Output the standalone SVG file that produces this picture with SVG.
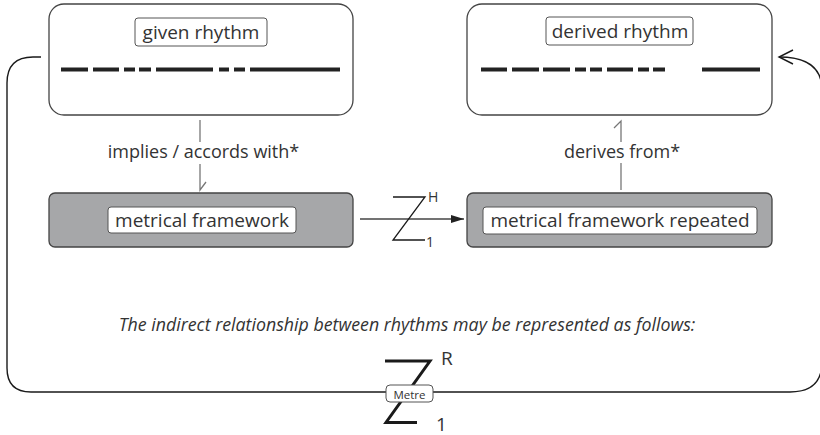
<svg xmlns="http://www.w3.org/2000/svg" width="820" height="435" viewBox="0 0 820 435">
  <defs>
    <marker id="arrowFill" markerWidth="14" markerHeight="10" refX="13" refY="5" orient="auto" markerUnits="userSpaceOnUse">
      <path d="M0,1 L13,5 L0,9 Z" fill="#222"/>
    </marker>
    <style>
      .txt { font-family: "Open Sans", "Liberation Sans", sans-serif; fill: #333; }
      .rhythmBox { fill: #fff; stroke: #444; stroke-width: 1.3; }
      .frameBox { fill: #a6a7a9; stroke: #444; stroke-width: 1.3; }
      .label { fill: #fff; stroke: #555; stroke-width: 1; }
      .beat { stroke: #222; stroke-width: 3.8; fill: none; }
      .link { stroke: #777; stroke-width: 1.3; fill: none; }
      .zig { stroke: #1a1a1a; fill: none; }
    </style>
  </defs>

  <!-- outer feedback loop from given rhythm round to derived rhythm -->
  <g id="connectors">
    <path class="zig" stroke-width="1.4" d="M41,57 L33,57 Q7,57 7,83 L7,368 Q7,392 31,392 L790,392 Q822,392 822,362 L822,90 Q822,57 779,57"/>
    <path class="zig" stroke-width="1.4" d="M793,50 L779,57 L793,64"/>

    <!-- implies / accords with -->
    <line class="link" x1="200" y1="120" x2="200" y2="142"/>
    <path class="link" d="M200,164 L200,190 L206,182"/>
    <text class="txt" x="203.5" y="158" font-size="18" text-anchor="middle">implies / accords with*</text>

    <!-- derives from -->
    <path class="link" d="M614,128 L621,121 L621,142"/>
    <line class="link" x1="621" y1="163" x2="621" y2="190"/>
    <text class="txt" x="622" y="158" font-size="18" text-anchor="middle">derives from*</text>

    <!-- framework repetition arrow with its Z sign -->
    <line x1="360" y1="219" x2="464" y2="219" stroke="#444" stroke-width="1.3" marker-end="url(#arrowFill)"/>
    <path class="zig" stroke-width="1.3" d="M393,197 L425,197 L393,240 L425,240"/>
    <text class="txt" x="428" y="202" font-size="14">H</text>
    <text class="txt" x="426" y="247" font-size="14">1</text>
  </g>

  <g id="given-rhythm">
    <rect class="rhythmBox" x="49" y="4" width="304" height="111" rx="15"/>
    <rect class="label" x="135" y="18" width="132" height="28" rx="3"/>
    <text class="txt" x="201" y="38.5" font-size="19" text-anchor="middle">given rhythm</text>
    <path class="beat" d="M61,69.5 H88 M93,69.5 H119 M124,69.5 H135 M139,69.5 H151 M156,69.5 H213 M219,69.5 H229 M234,69.5 H245 M250,69.5 H340"/>
  </g>

  <g id="derived-rhythm">
    <rect class="rhythmBox" x="467" y="4" width="305" height="111" rx="15"/>
    <rect class="label" x="546" y="17" width="147" height="28" rx="3"/>
    <text class="txt" x="620" y="38" font-size="19" text-anchor="middle">derived rhythm</text>
    <path class="beat" d="M481,69.5 H507 M512,69.5 H539 M543,69.5 H570 M575,69.5 H586 M590,69.5 H602 M607,69.5 H633 M638,69.5 H649 M653,69.5 H665 M702,69.5 H760"/>
  </g>

  <g id="metrical-framework">
    <rect class="frameBox" x="49" y="193" width="304" height="54" rx="6"/>
    <rect class="label" x="108" y="207" width="188" height="26" rx="3"/>
    <text class="txt" x="202" y="227" font-size="19" text-anchor="middle">metrical framework</text>
  </g>

  <g id="metrical-framework-repeated">
    <rect class="frameBox" x="467" y="193" width="305" height="54" rx="6"/>
    <rect class="label" x="483" y="207" width="274" height="27" rx="3"/>
    <text class="txt" x="620" y="227" font-size="19" text-anchor="middle">metrical framework repeated</text>
  </g>

  <g id="caption">
    <text class="txt" x="407" y="331" font-size="17.8" font-style="italic" text-anchor="middle">The indirect relationship between rhythms may be represented as follows:</text>
  </g>

  <g id="metre-sign">
    <path class="zig" stroke-width="3" d="M385,361 L430,361 L386,422.5 L417,422.5"/>
    <text class="txt" x="441" y="365" font-size="19">R</text>
    <text class="txt" x="436" y="430.5" font-size="19">1</text>
    <rect class="label" x="386" y="385" width="47" height="17" rx="4"/>
    <text class="txt" x="409.5" y="398.5" font-size="11.5" text-anchor="middle">Metre</text>
  </g>
</svg>
